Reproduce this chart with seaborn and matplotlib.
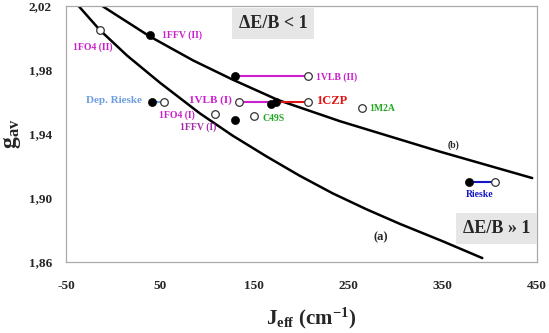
import numpy as np
import matplotlib
matplotlib.use("Agg")
import matplotlib.pyplot as plt
import seaborn as sns

# curves
curve_a_x = [-38, -14, 15, 50, 92, 127, 163, 198, 233, 269, 304, 350, 392]
curve_a_y = [2.021, 2.005, 1.989, 1.972, 1.953, 1.939, 1.926, 1.914, 1.903, 1.893, 1.884, 1.873, 1.8625]
curve_b_x = [-22, 39, 85, 127, 175, 241, 347, 445]
curve_b_y = [2.024, 2.001, 1.986, 1.974, 1.9613, 1.948, 1.929, 1.9125]

# filled / open markers
filled_x = [39, 129, 41, 168, 173, 129, 378]
filled_y = [2.002, 1.976, 1.960, 1.959, 1.960, 1.949, 1.910]
open_x = [-14, 207, 54, 134, 207, 108, 150, 264, 405]
open_y = [2.005, 1.976, 1.960, 1.960, 1.960, 1.9525, 1.951, 1.956, 1.910]

# connecting segments
seg_x0 = [129, 41, 134, 173, 378]
seg_x1 = [207, 54, 168, 207, 405]
seg_y = [1.976, 1.960, 1.960, 1.960, 1.910]
seg_col = ["#cc1fcc", "#6f9fe0", "#cc1fcc", "#e01515", "#1515c8"]

labels = ["1FO4 (II)", "1FFV (II)", "1VLB (II)", "Dep. Rieske", "1VLB (I)", "1CZP",
          "1M2A", "1FO4 (I)", "1FFV (I)", "C49S", "Rieske"]
label_x = [-1, 52, 216, 31, 126, 216, 272, 87, 110, 159, 389]
label_y = [1.994, 2.002, 1.9756, 1.961, 1.961, 1.9606, 1.956, 1.952, 1.944, 1.950, 1.902]
label_col = ["#cc1fcc", "#cc1fcc", "#cc1fcc", "#6f9fe0", "#cc1fcc", "#e01515",
             "#22a822", "#cc1fcc", "#a02aa8", "#22a822", "#1515c8"]
label_ha = ["right", "left", "left", "right", "right", "left", "left", "right", "right", "left", "center"]
label_size = [7, 7, 7, 8, 8, 9, 7, 7, 7, 7, 7]

sns.set_style("white")
plt.rcParams["font.family"] = ["Liberation Serif", "DejaVu Serif"]
plt.rcParams["font.weight"] = "bold"
plt.rcParams["mathtext.fontset"] = "custom"
plt.rcParams["mathtext.rm"] = "Liberation Serif:bold"
plt.rcParams["mathtext.bf"] = "Liberation Serif:bold"
plt.rcParams["mathtext.it"] = "Liberation Serif:bold"

fig = plt.figure(figsize=(5.49, 3.33), dpi=100)
ax = fig.add_axes([0.120, 0.213, 0.858, 0.769])

sns.lineplot(x=curve_a_x, y=curve_a_y, sort=False, color="black", lw=1.8,
             solid_joinstyle="round", ax=ax)
sns.lineplot(x=curve_b_x, y=curve_b_y, sort=False, color="black", lw=1.8,
             solid_joinstyle="round", ax=ax)

for x0, x1, y, c in zip(seg_x0, seg_x1, seg_y, seg_col):
    ax.plot([x0, x1], [y, y], color=c, lw=1.5, zorder=2)

sns.scatterplot(x=open_x, y=open_y, s=30, facecolor="white", edgecolor="#333333",
                linewidth=0.9, zorder=3, ax=ax)
sns.scatterplot(x=filled_x, y=filled_y, s=34, color="black", edgecolor="black",
                zorder=4, ax=ax)

for t, x, y, c, ha, fs in zip(labels, label_x, label_y, label_col, label_ha, label_size):
    ax.text(x, y, t, color=c, ha=ha, va="center", fontsize=fs, fontweight="bold")

ax.text(361, 1.933, "(b)", fontsize=7, fontweight="bold", ha="center", va="center")
ax.text(284, 1.8756, "(a)", fontsize=9, fontweight="bold", ha="center", va="center")

ax.text(170, 2.009, "ΔE/B < 1", fontsize=13, fontweight="bold", ha="center", va="center",
        bbox=dict(facecolor="#e6e6e6", edgecolor="none", pad=5))
ax.text(407, 1.881, "ΔE/B » 1", fontsize=13, fontweight="bold", ha="center", va="center",
        bbox=dict(facecolor="#e6e6e6", edgecolor="none", pad=5))

ax.set_xlim(-50, 450)
ax.set_ylim(1.86, 2.02)
ax.set_xticks(np.arange(-50, 451, 50))
ax.set_xticklabels([str(v) if (v + 50) % 100 == 0 else "" for v in range(-50, 451, 50)])
yt = np.round(np.arange(1.86, 2.021, 0.02), 2)
ax.set_yticks(yt)
ax.set_yticklabels([f"{v:.2f}".replace(".", ",") if i % 2 == 0 else "" for i, v in enumerate(yt)])
ax.tick_params(axis="both", direction="out", length=3, width=0.8, color="#999999",
               labelsize=9.5, pad=7)
ax.tick_params(axis="x", pad=10)
for lab in ax.get_xticklabels() + ax.get_yticklabels():
    lab.set_fontweight("bold")
for sp in ax.spines.values():
    sp.set_color("#aaaaaa")
    sp.set_linewidth(0.9)

ax.set_xlabel(r"J$_{\mathbf{eff}}$ (cm$^{\mathbf{-1}}$)", fontsize=15, fontweight="bold", labelpad=8)
ax.set_ylabel(r"g$_{\mathbf{av}}$", fontsize=17, fontweight="bold", labelpad=4)
ax.xaxis.set_label_coords(0.52, -0.17)

fig.savefig("out.png", dpi=100)
